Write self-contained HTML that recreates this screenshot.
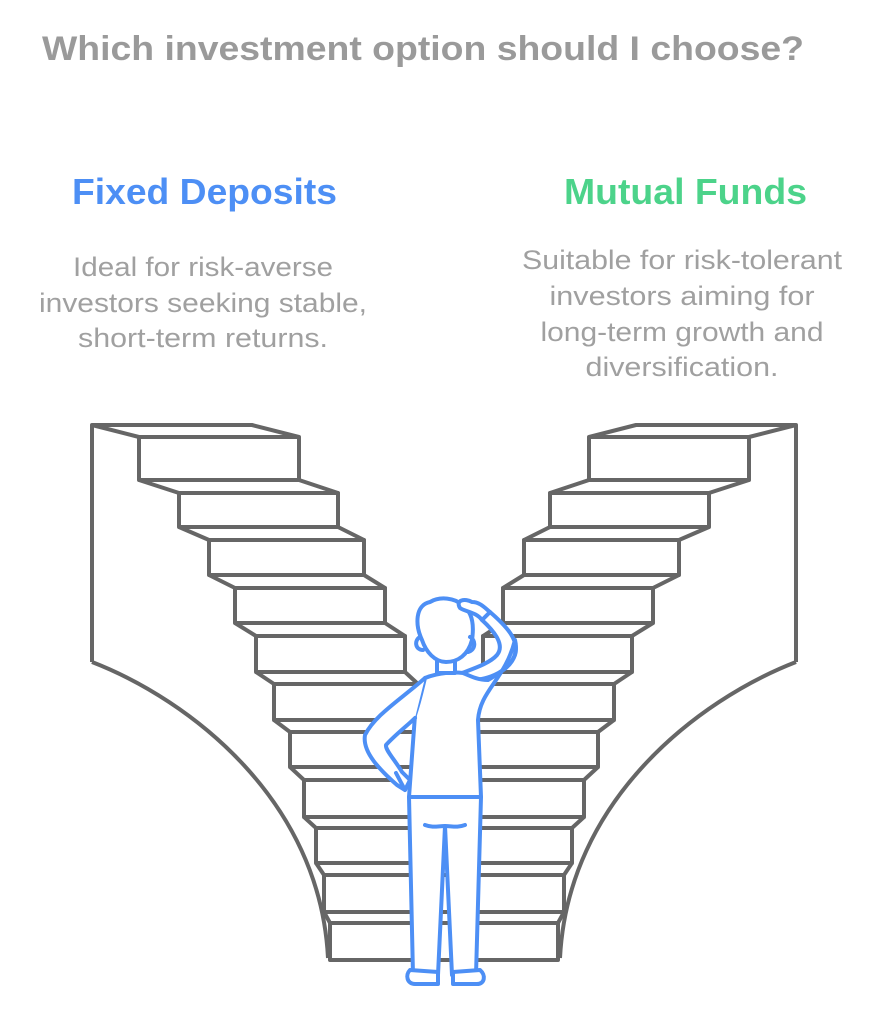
<!DOCTYPE html>
<html><head><meta charset="utf-8"><style>
html,body{margin:0;padding:0;background:#fff;}
svg{display:block;}
text{font-family:"Liberation Sans",sans-serif;}
</style></head><body>
<svg width="876" height="1013" viewBox="0 0 876 1013" xmlns="http://www.w3.org/2000/svg">
<text x="42" y="60" font-size="34" font-weight="bold" fill="#9a9a9a" textLength="762" lengthAdjust="spacingAndGlyphs">Which investment option should I choose?</text>
<text x="72" y="204" font-size="36" font-weight="bold" fill="#4d8ff5" textLength="265" lengthAdjust="spacingAndGlyphs">Fixed Deposits</text>
<text x="564" y="204" font-size="36" font-weight="bold" fill="#4cd38a" textLength="243" lengthAdjust="spacingAndGlyphs">Mutual Funds</text>
<g font-size="27" fill="#a0a0a0" text-anchor="middle">
<text x="203" y="276" textLength="260" lengthAdjust="spacingAndGlyphs">Ideal for risk-averse</text>
<text x="203" y="312" textLength="328" lengthAdjust="spacingAndGlyphs">investors seeking stable,</text>
<text x="203" y="347" textLength="250" lengthAdjust="spacingAndGlyphs">short-term returns.</text>
<text x="682" y="269" textLength="320" lengthAdjust="spacingAndGlyphs">Suitable for risk-tolerant</text>
<text x="682" y="305" textLength="265" lengthAdjust="spacingAndGlyphs">investors aiming for</text>
<text x="682" y="341" textLength="283" lengthAdjust="spacingAndGlyphs">long-term growth and</text>
<text x="682" y="376" textLength="193" lengthAdjust="spacingAndGlyphs">diversification.</text>
</g>
<g stroke="#666" stroke-width="4" fill="#fff" stroke-linejoin="round">
<!-- walls -->
<path d="M92,662 V425 H252 L299,437" fill="none"/>
<path d="M92,662 C190,700 320,800 328,958" fill="none"/>
<path d="M796,662 V425 H636 L589,437" fill="none"/>
<path d="M796,662 C698,700 568,800 560,958" fill="none"/>
<!-- left upper steps -->
<path d="M92,425 L139,437"/>
<rect x="139" y="437" width="160" height="43"/>
<path d="M139,480 L179,493 H338 L299,480" fill="none"/>
<rect x="179" y="493" width="159" height="34"/>
<path d="M179,527 L209,540 H364 L338,527" fill="none"/>
<rect x="209" y="540" width="155" height="35"/>
<path d="M209,575 L235,588 H385 L364,575" fill="none"/>
<rect x="235" y="588" width="150" height="35"/>
<path d="M235,623 L256,636 H405 L385,623" fill="none"/>
<rect x="256" y="636" width="149" height="36"/>
<!-- right upper steps -->
<path d="M796,425 L749,437"/>
<rect x="589" y="437" width="160" height="43"/>
<path d="M749,480 L709,493 H550 L589,480" fill="none"/>
<rect x="550" y="493" width="159" height="34"/>
<path d="M709,527 L679,540 H524 L550,527" fill="none"/>
<rect x="524" y="540" width="155" height="35"/>
<path d="M679,575 L653,588 H503 L524,575" fill="none"/>
<rect x="503" y="588" width="150" height="35"/>
<path d="M653,623 L632,636 H483 L503,623" fill="none"/>
<rect x="483" y="636" width="149" height="36"/>
<!-- full width steps -->
<path d="M256,672 L274,684 M632,672 L614,684 M405,672 L418,684 M483,672 L470,684" fill="none"/>
<rect x="274" y="684" width="340" height="36"/>
<path d="M274,720 L290,732 M614,720 L598,732" fill="none"/>
<rect x="290" y="732" width="308" height="35"/>
<path d="M290,767 L304,780 M598,767 L584,780" fill="none"/>
<rect x="304" y="780" width="280" height="37"/>
<path d="M304,817 L316,828 M584,817 L572,828" fill="none"/>
<rect x="316" y="828" width="256" height="35"/>
<path d="M316,863 L324,875 M572,863 L564,875" fill="none"/>
<rect x="324" y="875" width="240" height="37"/>
<path d="M324,912 L330,923 M564,912 L558,923" fill="none"/>
<rect x="330" y="923" width="228" height="37"/>
</g>
<!-- person -->
<g stroke="#4d8ff5" stroke-width="4" fill="#fff" stroke-linejoin="round" stroke-linecap="round">
<!-- raised arm -->
<path d="M470,680 C490,680 510,670 515,655 C520,640 505,625 490,612 L482,620 C495,632 505,645 497,655 C490,663 475,668 462,673 Z"/>
<!-- torso -->
<path d="M425,678 C440,672 455,672 463,673 C470,676 478,680 488,680 C505,670 520,660 515,640 C505,680 480,690 478,720 L481,797 H409 L415,715 C420,700 422,690 425,678 Z"/>
<!-- left arm -->
<path d="M425,678 C400,700 375,715 365,735 C362,752 380,770 397,785 L405,790 L410,780 L402,772 C395,760 385,750 386,745 C395,735 408,725 415,718"/>
<path d="M396,773 L405,790" fill="none"/>
<!-- legs -->
<path d="M409,797 L413,975 H438 L445,826 L452,975 H476 L481,797 Z"/>
<path d="M425,825 C433,828 438,826 445,826 C452,826 457,828 465,825" fill="none"/>
<path d="M410,970 C405,975 407,984 415,984 H438 V972 Z M453,972 V984 H477 C485,984 486,975 480,970 Z"/>
<!-- neck -->
<path d="M437,655 V673 H455 V655 Z"/>
<!-- head -->
<path d="M422,640 C415,625 415,605 430,602 C440,596 455,598 462,605 C470,610 475,620 472,640 C468,655 458,662 446,662 C435,662 426,652 422,640 Z"/>
<path d="M420,637 C414,640 415,650 423,650" fill="none"/>
<path d="M470,637 C476,640 476,650 468,652" fill="none"/>
<!-- hand on head -->
<path d="M460,608 C455,600 465,598 472,602 C480,602 485,608 490,612 L482,620 C476,612 466,612 460,608 Z"/>
</g>
</svg>
</body></html>
